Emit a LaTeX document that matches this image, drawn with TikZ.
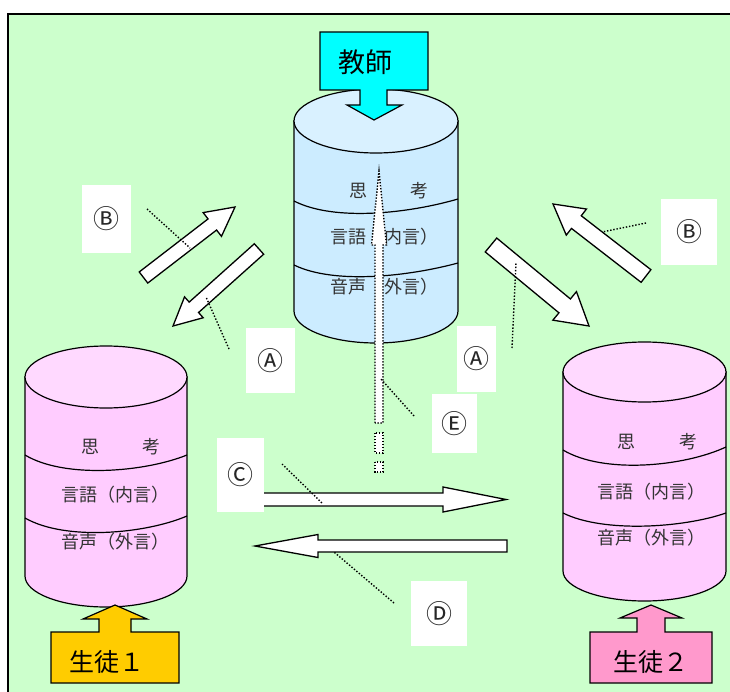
\documentclass[tikz,border=0pt]{standalone}
\usepackage{fontspec}
\newfontfamily\jp{Noto Sans CJK JP}
\usetikzlibrary{calc}

\definecolor{paneGreen}{HTML}{CCFFCC}
\definecolor{teachBody}{HTML}{CCECFF}
\definecolor{teachTop}{HTML}{D9F1FF}
\definecolor{pupilBody}{HTML}{FFCCFF}
\definecolor{pupilTop}{HTML}{FFD9FF}
\definecolor{tagCyan}{HTML}{00FFFF}
\definecolor{tagGold}{HTML}{FFCC00}
\definecolor{tagPink}{HTML}{FF99CC}

\tikzset{
  cyl/.style={line width=1.2pt},
  layer/.style={line width=1.2pt},
  barrow/.style={draw, fill=white, line width=1.3pt, line join=miter},
  dotarrow/.style={draw, fill=white, line width=1.4pt, dash pattern=on 1.4pt off 1.6pt},
  lbl/.style={fill=white, inner sep=0pt, text=black!85, font=\jp\fontsize{26}{26}\selectfont},
  leader/.style={line width=1.4pt, dash pattern=on 1.4pt off 1.8pt},
  layertext/.style={font=\jp\fontsize{18}{18}\selectfont, text=black!80, inner sep=0pt},
  tagtext/.style={inner sep=0pt, font=\jp\fontsize{25}{25}\selectfont},
  tagshape/.style={draw, line width=1.2pt, line join=miter},
}

% drum: centre x, top centre y, bottom centre y, x radius, y radius, body colour, top colour
\newcommand\drum[7]{%
  \draw[cyl, fill=#6] (#1-#4,#2) -- (#1-#4,#3)
     arc[start angle=180, end angle=360, x radius=#4pt, y radius=#5pt]
     -- (#1+#4,#2) -- cycle;
  \draw[cyl, fill=#7] (#1,#2) ellipse[x radius=#4pt, y radius=#5pt];
}

% block arrow: [style] tail, tip, shaft half width, head half width, head length
\newcommand\blockarrow[6][barrow]{%
  \path[#1] let \p1=($(#3)-(#2)$), \n1={atan2(\y1,\x1)},
      \n2={veclen(\x1,\y1)-#6} in
    ($(#2)+(\n1+90:#4pt)$)
    -- ($(#2)+(\n1:\n2)+(\n1+90:#4pt)$)
    -- ($(#2)+(\n1:\n2)+(\n1+90:#5pt)$)
    -- (#3)
    -- ($(#2)+(\n1:\n2)+(\n1-90:#5pt)$)
    -- ($(#2)+(\n1:\n2)+(\n1-90:#4pt)$)
    -- ($(#2)+(\n1-90:#4pt)$) -- cycle;
}

\begin{document}
\begin{tikzpicture}[x=1pt, y=-1pt]
  \clip (0,0) rectangle (730,692);
  \fill[white] (0,0) rectangle (730,692);
  \draw[fill=paneGreen, line width=1.5pt] (8,14) rectangle (760,720);

  % ---- three drums ----
  \drum{376}{121}{311}{82}{32}{teachBody}{teachTop}
  \draw[layer] (294,201) .. controls (335,222) and (410,213) .. (458,199);
  \draw[layer] (294,265) .. controls (335,285) and (410,276) .. (458,263);

  \drum{106}{377}{576}{81}{31}{pupilBody}{pupilTop}
  \draw[layer] (25,455) .. controls (65,479) and (145,472) .. (187,455);
  \draw[layer] (25,518) .. controls (65,541) and (145,534) .. (187,516);

  \drum{644.5}{372}{571}{81.5}{30}{pupilBody}{pupilTop}
  \draw[layer] (563,450) .. controls (603,474) and (683,467) .. (726,447);
  \draw[layer] (563,513) .. controls (603,533) and (683,528) .. (726,513);

  % ---- layer texts ----
  \node[layertext] (tThink) at (389,191) {思\hspace{44pt}考};
  \node[layertext] (tInner) at (384,237) {言語（内言）};
  \node[layertext] (tOuter) at (384,287) {音声（外言）};

  \node[layertext] (aThink) at (121,447) {思\hspace{44pt}考};
  \node[layertext] (aInner) at (115,495) {言語（内言）};
  \node[layertext] (aOuter) at (115,542) {音声（外言）};

  \node[layertext] (bThink) at (657,442) {思\hspace{44pt}考};
  \node[layertext] (bInner) at (651,492) {言語（内言）};
  \node[layertext] (bOuter) at (651,538) {音声（外言）};

  % ---- name tags with their pointers ----
  \draw[tagshape, fill=tagCyan] (320,32) -- (428,32) -- (428,90) -- (387,90)
    -- (387,105) -- (402,105) -- (374,120) -- (347,105) -- (360,105)
    -- (360,90) -- (320,90) -- cycle;
  \node[inner sep=0pt, font=\jp\fontsize{27}{27}\selectfont] (teacher) at (365,62) {教師};

  \draw[tagshape, fill=tagGold] (51,683) -- (179,683) -- (179,632) -- (131,632)
    -- (131,619) -- (147,619) -- (115,605) -- (83,619) -- (99,619)
    -- (99,632) -- (51,632) -- cycle;
  \node[tagtext] (pupilA) at (107,662) {生徒１};

  \draw[tagshape, fill=tagPink] (590,683) -- (712,683) -- (712,632) -- (665,632)
    -- (665,618) -- (682,618) -- (651,605) -- (620,618) -- (637,618)
    -- (637,632) -- (590,632) -- cycle;
  \node[tagtext] (pupilB) at (651,662) {生徒２};

  % ---- exchange arrows ----
  \coordinate (lupT) at (143.5,277.5); \coordinate (lupH) at (235,207);
  \coordinate (ldnT) at (259,249);     \coordinate (ldnH) at (173,326);
  \coordinate (rupT) at (646,276);     \coordinate (rupH) at (553,204);
  \coordinate (rdnT) at (491,245);     \coordinate (rdnH) at (589,326);
  \coordinate (hrT) at (255,499.5);    \coordinate (hrH) at (506,499.5);
  \coordinate (hlT) at (507,546);      \coordinate (hlH) at (255,546);

  \blockarrow{lupT}{lupH}{7}{15}{28.5}
  \blockarrow{ldnT}{ldnH}{7}{14}{28}
  \blockarrow{rupT}{rupH}{8}{16.5}{29.5}
  \blockarrow{rdnT}{rdnH}{9}{18.5}{31.5}
  \blockarrow{hrT}{hrH}{6.5}{12.5}{63}
  \blockarrow{hlT}{hlH}{6}{11.5}{63}

  % ---- letter labels ----
  \node[lbl, minimum width=49pt, minimum height=68pt] (labBl) at (106.5,219) {Ⓑ};
  \node[lbl, minimum width=49pt, minimum height=65pt] (labAl) at (270.5,360.5) {Ⓐ};
  \node[lbl, minimum width=56pt, minimum height=66pt] (labBr) at (689,232) {Ⓑ};
  \node[lbl, minimum width=39pt, minimum height=66pt] (labAr) at (476.5,359) {Ⓐ};
  \node[lbl, minimum width=45pt, minimum height=59pt] (labE) at (454.5,423.5) {Ⓔ};
  \node[lbl, minimum width=47pt, minimum height=74pt] (labC) at (240.5,475) {Ⓒ};
  \node[lbl, minimum width=56pt, minimum height=65pt] (labD) at (439,613.5) {Ⓓ};

  % ---- dotted leaders ----
  \coordinate (ldBl0) at (147,209); \coordinate (ldBl1) at (190,248);
  \coordinate (ldAl0) at (229,349); \coordinate (ldAl1) at (206,297);
  \coordinate (ldBr0) at (646,223); \coordinate (ldBr1) at (602,232);
  \coordinate (ldAr0) at (512,348); \coordinate (ldAr1) at (516,263);
  \coordinate (ldC0)  at (282,464); \coordinate (ldC1)  at (323,504);
  \coordinate (ldD0)  at (394,603); \coordinate (ldD1)  at (334,552);
  \draw[leader] (ldBl0) -- (ldBl1);
  \draw[leader] (ldAl0) -- (ldAl1);
  \draw[leader] (ldBr0) -- (ldBr1);
  \draw[leader] (ldAr0) -- (ldAr1);
  \draw[leader] (ldC0) -- (ldC1);
  \draw[leader] (ldD0) -- (ldD1);

  % ---- dotted upward arrow through the teacher drum ----
  \coordinate (upT) at (379,423); \coordinate (upH) at (379,171);
  \blockarrow[dotarrow]{upT}{upH}{4}{7.5}{74}
  \draw[dotarrow] (375,433) rectangle (383,453);
  \draw[dotarrow] (375,462) rectangle (383,472);
  \coordinate (ldE0) at (414,416); \coordinate (ldE1) at (380,378);
  \draw[leader] (ldE0) -- (ldE1);
\end{tikzpicture}
\end{document}
